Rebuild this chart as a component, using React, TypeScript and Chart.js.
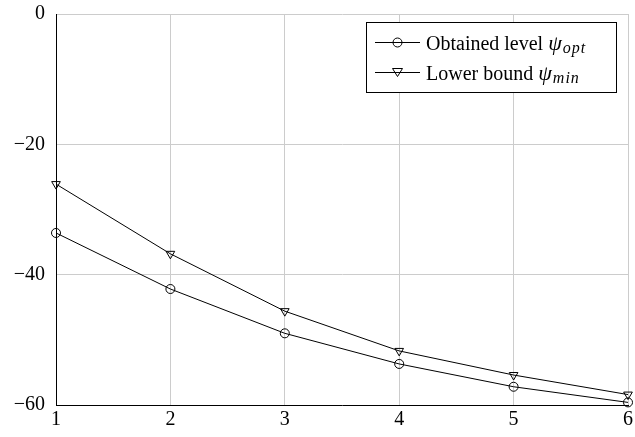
import React, { useEffect, useRef } from "react";
import { Chart, registerables } from "chart.js";

Chart.register(...registerables);

const xValues = [1, 2, 3, 4, 5, 6];
const obtainedLevel = [-33.6, -42.2, -49.0, -53.7, -57.2, -59.6];
const lowerBound = [-26.1, -36.8, -45.6, -51.7, -55.4, -58.4];
const yTicks = [0, -20, -40, -60];

const SERIF = "'Liberation Serif', 'Times New Roman', serif";

const legendPlugin = {
  id: "texLegend",
  afterDraw(chart: any) {
    const ctx = chart.ctx as CanvasRenderingContext2D;
    const boxL = 366, boxT = 22, boxR = 617, boxB = 93;
    ctx.save();
    ctx.fillStyle = "#fff";
    ctx.fillRect(boxL, boxT, boxR - boxL, boxB - boxT);
    ctx.strokeStyle = "#000";
    ctx.lineWidth = 1;
    ctx.strokeRect(boxL + 0.5, boxT + 0.5, boxR - boxL - 1, boxB - boxT - 1);

    const rows = [
      { y: 42.5, label: "Obtained level ", sub: "opt", marker: "circle" },
      { y: 72.5, label: "Lower bound ", sub: "min", marker: "tri" },
    ];
    for (const r of rows) {
      ctx.strokeStyle = "#000";
      ctx.lineWidth = 1;
      ctx.beginPath();
      ctx.moveTo(375, r.y);
      ctx.lineTo(420, r.y);
      ctx.stroke();
      const mx = 397.5;
      ctx.beginPath();
      if (r.marker === "circle") {
        ctx.arc(mx, r.y, 4.5, 0, Math.PI * 2);
      } else {
        ctx.moveTo(mx - 5, r.y - 4);
        ctx.lineTo(mx + 5, r.y - 4);
        ctx.lineTo(mx, r.y + 4);
        ctx.closePath();
      }
      ctx.stroke();

      ctx.fillStyle = "#000";
      ctx.textBaseline = "alphabetic";
      ctx.textAlign = "left";
      const base = r.y + 7;
      let x = 426;
      ctx.font = `20px ${SERIF}`;
      ctx.fillText(r.label, x, base);
      x += ctx.measureText(r.label).width;
      ctx.font = `italic 22px ${SERIF}`;
      ctx.fillText("ψ", x, base);
      x += ctx.measureText("ψ").width + 1;
      ctx.font = `italic 16px ${SERIF}`;
      for (const ch of r.sub) {
        ctx.fillText(ch, x, base + 3);
        x += ctx.measureText(ch).width + 1;
      }
    }
    ctx.restore();
  },
};

export default function App() {
  const ref = useRef<HTMLCanvasElement | null>(null);

  useEffect(() => {
    document.body.style.margin = "0";
    const canvas = ref.current;
    if (!canvas) return;
    const chart = new Chart(canvas, {
      type: "line",
      data: {
        datasets: [
          {
            label: "Obtained level",
            data: xValues.map((x, i) => ({ x, y: obtainedLevel[i] })),
            borderColor: "#000",
            borderWidth: 1,
            backgroundColor: "rgba(0,0,0,0)",
            pointStyle: "circle",
            pointRadius: 4.5,
            pointBorderColor: "#000",
            pointBackgroundColor: "rgba(0,0,0,0)",
            pointBorderWidth: 1,
            tension: 0,
          },
          {
            label: "Lower bound",
            data: xValues.map((x, i) => ({ x, y: lowerBound[i] })),
            borderColor: "#000",
            borderWidth: 1,
            backgroundColor: "rgba(0,0,0,0)",
            pointStyle: "triangle",
            pointRotation: 180,
            pointRadius: 5,
            pointBorderColor: "#000",
            pointBackgroundColor: "rgba(0,0,0,0)",
            pointBorderWidth: 1,
            tension: 0,
          },
        ],
      },
      options: {
        animation: false,
        responsive: false,
        clip: false as any,
        layout: { padding: { left: 0, top: 14, right: 7, bottom: 0 } },
        plugins: { legend: { display: false }, tooltip: { enabled: false } },
        scales: {
          x: {
            type: "linear",
            min: 1,
            max: 6,
            afterFit(scale: any) {
              scale.height = 32;
              scale.paddingLeft = 0;
              scale.paddingRight = 0;
            },
            afterBuildTicks(scale: any) {
              scale.ticks = xValues.map((v) => ({ value: v }));
            },
            ticks: {
              color: "#000",
              font: { family: SERIF, size: 20 },
              padding: 3,
              maxRotation: 0,
              callback: (v: any) => String(v),
            },
            grid: { color: "#cccccc", lineWidth: 1, drawTicks: false },
            border: { color: "#000", width: 1 },
          },
          y: {
            type: "linear",
            min: -60,
            max: 0,
            afterFit(scale: any) {
              scale.width = 56;
              scale.paddingTop = 0;
              scale.paddingBottom = 0;
            },
            afterBuildTicks(scale: any) {
              scale.ticks = yTicks.map((v) => ({ value: v }));
            },
            ticks: {
              color: "#000",
              font: { family: SERIF, size: 20 },
              padding: 11,
              callback: (v: any) => (Number(v) < 0 ? "\u2212" + Math.abs(Number(v)) : String(v)),
            },
            grid: { color: "#cccccc", lineWidth: 1, drawTicks: false },
            border: { color: "#000", width: 1 },
          },
        },
      },
      plugins: [legendPlugin],
    });
    return () => chart.destroy();
  }, []);

  return <canvas ref={ref} width={635} height={437} style={{ display: "block", width: 635, height: 437 }} />;
}
